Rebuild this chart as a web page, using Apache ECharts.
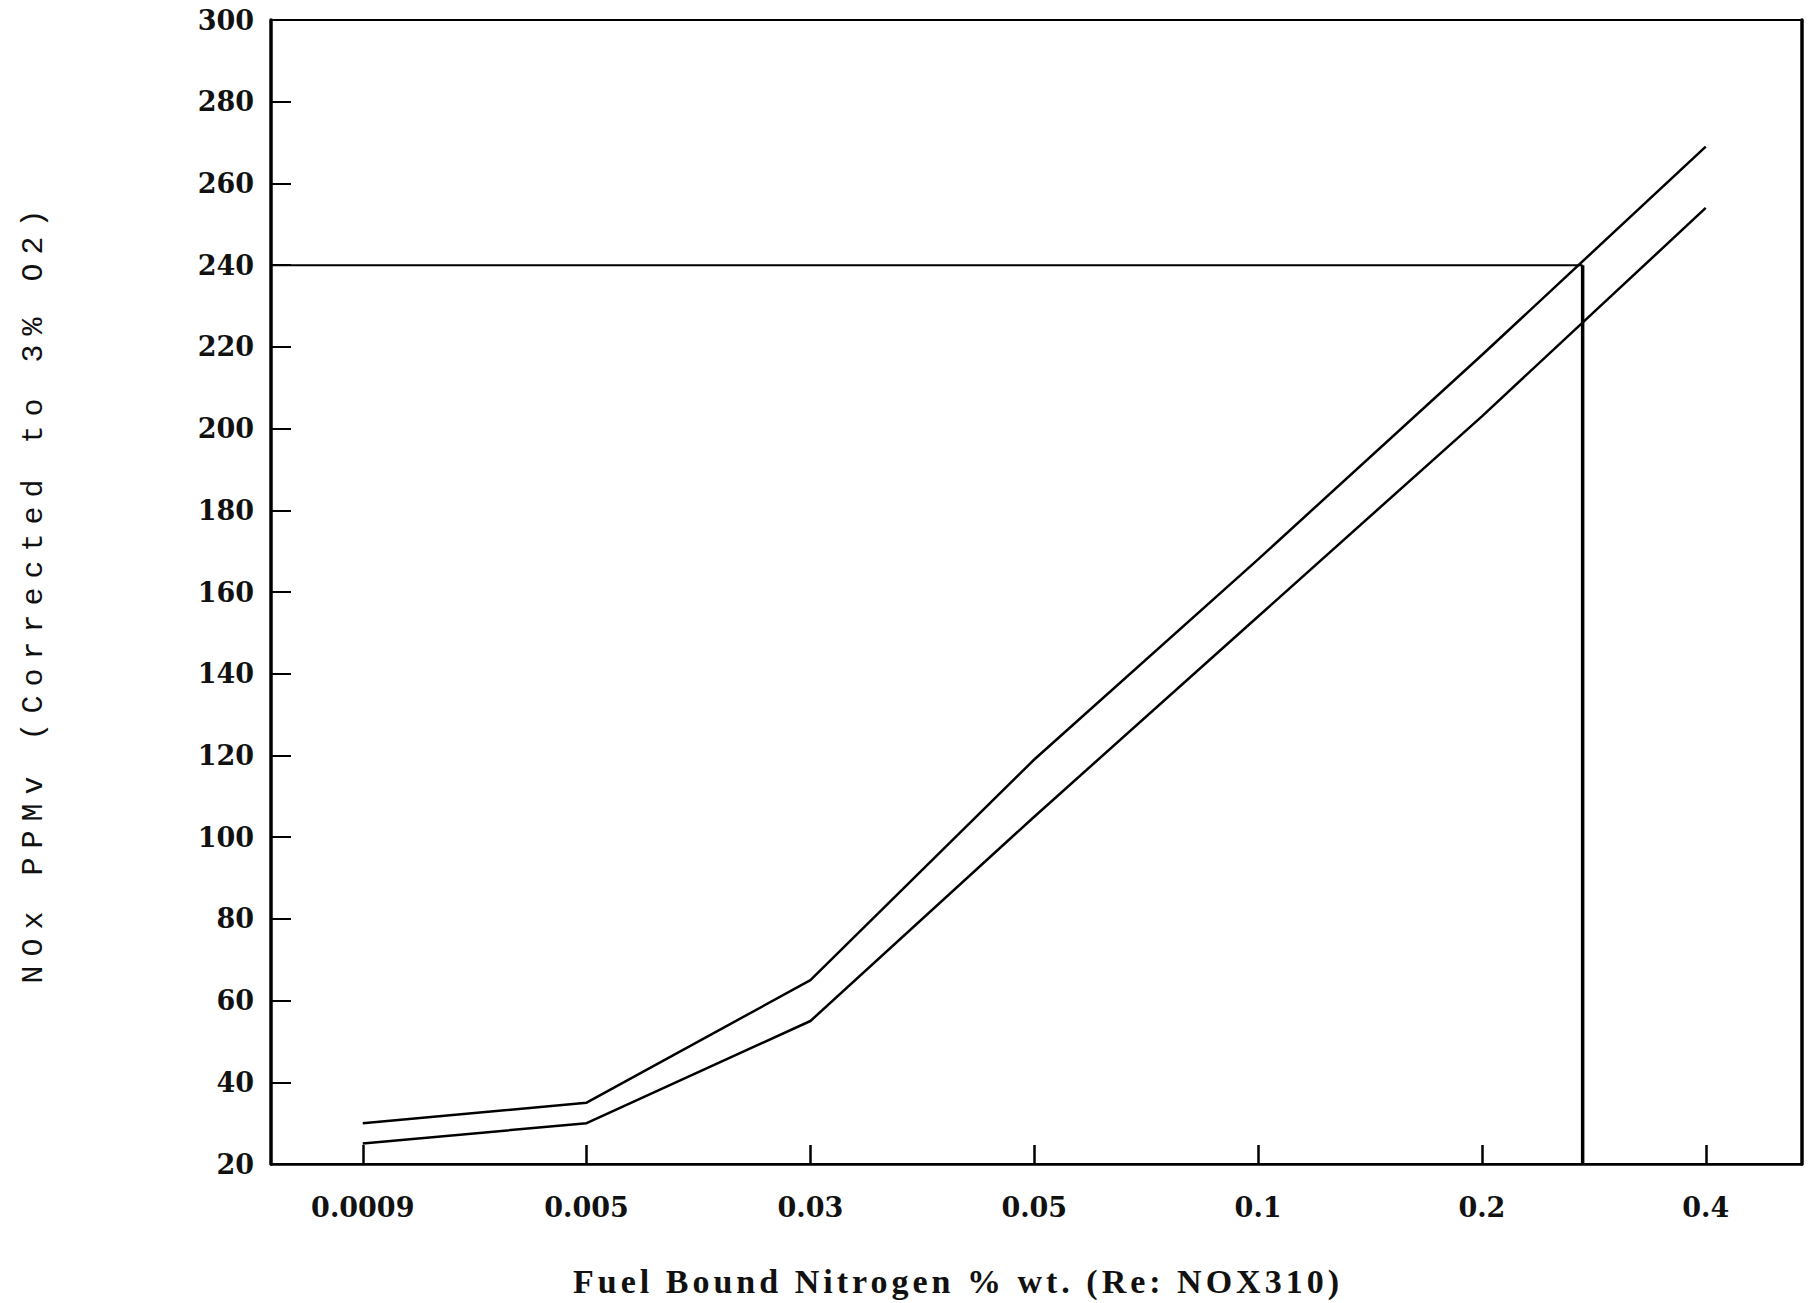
<!DOCTYPE html>
<html>
<head>
<meta charset="utf-8">
<script src="https://cdn.jsdelivr.net/npm/echarts@6/dist/echarts.min.js"></script>
<style>
  html, body { margin: 0; padding: 0; background: #fff; }
  #chart { width: 1810px; height: 1303px; }
</style>
</head>
<body>
<div id="chart"></div>
<script>
// Fuel-bound nitrogen levels, evenly spaced along the horizontal axis
const xTickLabels = ['0.0009', '0.005', '0.03', '0.05', '0.1', '0.2', '0.4'];
const xIndex = [0, 1, 2, 3, 4, 5, 6];

// NOx (ppmv, corrected to 3% O2) - upper and lower bound curves
const upperNOx = [30, 35, 65, 119, 168, 218, 269];
const lowerNOx = [25, 30, 55, 105, 154, 203, 254];

// Reading guide: 240 ppmv level and where it meets the upper curve
const guideLevel = 240;
const guidePos = 5.45;

// Axis ranges
const xMin = -0.41, xMax = 6.43;
const yMin = 20, yMax = 300, yStep = 20;

const yTitle = 'NOx PPMv (Corrected to 3% O2)';
const xTitle = 'Fuel Bound Nitrogen % wt. (Re: NOX310)';

const chart = echarts.init(document.getElementById('chart'), null, { renderer: 'svg' });

const black = '#000';
const tickFont = { fontFamily: 'DejaVu Serif', fontWeight: 'bold', fontSize: 27, color: '#111' };

const curveStyle = { color: black, width: 2.5 };

chart.setOption({
  animation: false,
  backgroundColor: '#fff',
  grid: {
    left: 271, right: 8, top: 20, bottom: 139,
    show: true, borderColor: black, borderWidth: 2, backgroundColor: 'transparent'
  },
  xAxis: [{
    type: 'value', min: xMin, max: xMax,
    axisLine: { show: true, onZero: false, lineStyle: { color: black, width: 2.5 } },
    axisTick: { show: true, inside: true, length: 19, customValues: xIndex, lineStyle: { color: black, width: 2.5 } },
    axisLabel: {
      customValues: xIndex, margin: 30, ...tickFont,
      formatter: v => xTickLabels[Math.round(v)]
    },
    splitLine: { show: false }
  }],
  yAxis: [{
    type: 'value', min: yMin, max: yMax, interval: yStep,
    name: yTitle, nameLocation: 'middle', nameGap: 222,
    nameTextStyle: { fontFamily: 'Liberation Mono', fontSize: 30, color: '#111' },
    axisLine: { show: true, onZero: false, lineStyle: { color: black, width: 3.5 } },
    axisTick: { show: true, inside: true, length: 20, lineStyle: { color: black, width: 2 } },
    axisLabel: { margin: 17, ...tickFont },
    splitLine: { show: false }
  }, {
    type: 'value', min: yMin, max: yMax, interval: yStep, position: 'right',
    axisLine: { show: true, onZero: false, lineStyle: { color: black, width: 3.5 } },
    axisTick: { show: false }, axisLabel: { show: false }, splitLine: { show: false }
  }],
  graphic: [{
    type: 'text', x: 958, y: 1281,
    style: {
      text: xTitle, fill: '#111', align: 'center', verticalAlign: 'middle',
      font: 'bold 34px "Liberation Serif"'
    }
  }],
  series: [{
    type: 'line', name: 'upper', symbol: 'none', silent: true,
    data: xIndex.map((x, i) => [x, upperNOx[i]]), lineStyle: curveStyle
  }, {
    type: 'line', name: 'lower', symbol: 'none', silent: true,
    data: xIndex.map((x, i) => [x, lowerNOx[i]]), lineStyle: curveStyle
  }, {
    type: 'line', name: 'guide-h', symbol: 'none', silent: true,
    data: [[xMin, guideLevel], [guidePos, guideLevel]], lineStyle: { color: black, width: 2 }
  }, {
    type: 'line', name: 'guide-v', symbol: 'none', silent: true,
    data: [[guidePos, guideLevel], [guidePos, yMin]], lineStyle: { color: black, width: 3.5 }
  }]
});

// Widen the tracking of the two axis titles
function spaceTitles() {
  chart.getDom().querySelectorAll('text').forEach(t => {
    const s = t.textContent;
    if (s === yTitle) t.style.letterSpacing = '9px';
    else if (s === xTitle) t.style.letterSpacing = '4px';
  });
}
chart.on('finished', spaceTitles);
chart.on('rendered', spaceTitles);
spaceTitles();
</script>
</body>
</html>
